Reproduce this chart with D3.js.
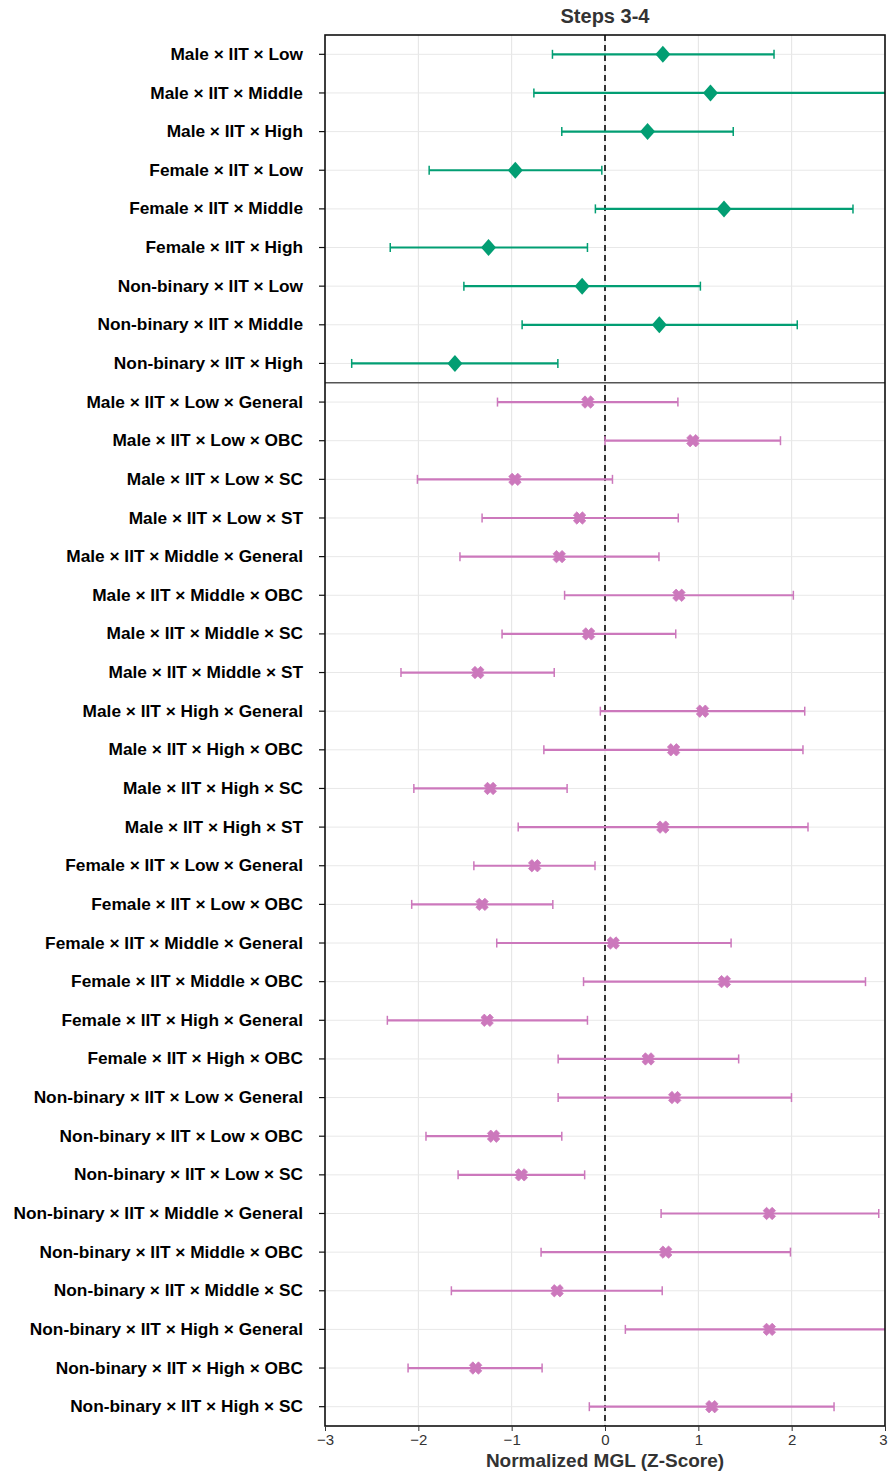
<!DOCTYPE html>
<html><head><meta charset="utf-8">
<script src="https://cdn.jsdelivr.net/npm/d3@7/dist/d3.min.js"></script>
<style>body{margin:0;background:#fff}svg{display:block}</style>
</head><body><div id="chart"></div>
<script>
const groupLabels = ["Male × IIT × Low","Male × IIT × Middle","Male × IIT × High","Female × IIT × Low","Female × IIT × Middle","Female × IIT × High","Non-binary × IIT × Low","Non-binary × IIT × Middle","Non-binary × IIT × High"];
const groupMean = [0.62,1.13,0.456,-0.961,1.275,-1.248,-0.245,0.582,-1.608];
const groupLow  = [-0.563,-0.762,-0.463,-1.884,-0.103,-2.301,-1.512,-0.888,-2.714];
const groupHigh = [1.811,3.03,1.374,-0.034,2.657,-0.188,1.022,2.06,-0.505];

const casteLabels = ["Male × IIT × Low × General","Male × IIT × Low × OBC","Male × IIT × Low × SC","Male × IIT × Low × ST","Male × IIT × Middle × General","Male × IIT × Middle × OBC","Male × IIT × Middle × SC","Male × IIT × Middle × ST","Male × IIT × High × General","Male × IIT × High × OBC","Male × IIT × High × SC","Male × IIT × High × ST","Female × IIT × Low × General","Female × IIT × Low × OBC","Female × IIT × Middle × General","Female × IIT × Middle × OBC","Female × IIT × High × General","Female × IIT × High × OBC","Non-binary × IIT × Low × General","Non-binary × IIT × Low × OBC","Non-binary × IIT × Low × SC","Non-binary × IIT × Middle × General","Non-binary × IIT × Middle × OBC","Non-binary × IIT × Middle × SC","Non-binary × IIT × High × General","Non-binary × IIT × High × OBC","Non-binary × IIT × High × SC"];
const casteMean = [-0.184,0.942,-0.965,-0.272,-0.49,0.792,-0.176,-1.363,1.045,0.735,-1.229,0.62,-0.754,-1.317,0.088,1.279,-1.263,0.463,0.747,-1.194,-0.896,1.761,0.651,-0.513,1.761,-1.386,1.145];
const casteLow  = [-1.152,0.0,-2.01,-1.317,-1.554,-0.433,-1.103,-2.186,-0.05,-0.655,-2.048,-0.93,-1.405,-2.071,-1.16,-0.23,-2.332,-0.502,-0.502,-1.918,-1.574,0.601,-0.685,-1.646,0.218,-2.11,-0.168];
const casteHigh = [0.781,1.88,0.08,0.785,0.578,2.018,0.758,-0.544,2.14,2.121,-0.406,2.175,-0.107,-0.559,1.351,2.791,-0.188,1.432,1.998,-0.463,-0.218,2.933,1.987,0.613,3.304,-0.674,2.454];

const xTicks = [-3,-2,-1,0,1,2,3];
const title = "Steps 3-4";
const xTitle = "Normalized MGL (Z-Score)";

const W = 888, H = 1474;
const m = {left:325, right:3, top:35, bottom:48};
const iw = W - m.left - m.right, ih = H - m.top - m.bottom;
const GREEN = "#029e73", PINK = "#cc78bc";

const rows = [];
groupLabels.forEach((l,i)=>rows.push({label:l, mean:groupMean[i], lo:groupLow[i], hi:groupHigh[i], kind:"g"}));
casteLabels.forEach((l,i)=>rows.push({label:l, mean:casteMean[i], lo:casteLow[i], hi:casteHigh[i], kind:"c"}));

const svg = d3.select("#chart").append("svg").attr("width",W).attr("height",H)
  .style("font-family","'Liberation Sans', Arial, sans-serif");
const g = svg.append("g").attr("transform",`translate(${m.left},${m.top})`);

const x = d3.scaleLinear().domain([-3,3]).range([0,iw]);
const y = d3.scaleBand().domain(rows.map(d=>d.label)).range([0,ih]).padding(0);
const yc = d => y(d) + y.bandwidth()/2;

svg.append("defs").append("clipPath").attr("id","clip").append("rect").attr("width",iw).attr("height",ih);

// grid
g.append("g").selectAll("line").data(xTicks).join("line")
  .attr("x1",d=>x(d)).attr("x2",d=>x(d)).attr("y1",0).attr("y2",ih)
  .attr("stroke","#e3e3e3").attr("stroke-width",1);
g.append("g").selectAll("line").data(rows).join("line")
  .attr("x1",0).attr("x2",iw).attr("y1",d=>yc(d.label)).attr("y2",d=>yc(d.label))
  .attr("stroke","#e8e8e8").attr("stroke-width",1);

// divider
const divY = y(casteLabels[0]);
g.append("line").attr("x1",0).attr("x2",iw).attr("y1",divY).attr("y2",divY)
  .attr("stroke","#555").attr("stroke-width",1.6);

// zero line
g.append("line").attr("x1",x(0)).attr("x2",x(0)).attr("y1",0).attr("y2",ih)
  .attr("stroke","#222").attr("stroke-width",1.8).attr("stroke-dasharray","6,4");

// error bars
const eb = g.append("g").attr("clip-path","url(#clip)");
const cap = 4.5;
rows.forEach(d=>{
  const col = d.kind==="g"?GREEN:PINK;
  const cy = yc(d.label);
  const gg = eb.append("g").attr("stroke",col).attr("stroke-width",2.2);
  gg.append("line").attr("x1",x(d.lo)).attr("x2",x(d.hi)).attr("y1",cy).attr("y2",cy);
  gg.append("line").attr("x1",x(d.lo)).attr("x2",x(d.lo)).attr("y1",cy-cap).attr("y2",cy+cap).attr("stroke-width",1.5);
  gg.append("line").attr("x1",x(d.hi)).attr("x2",x(d.hi)).attr("y1",cy-cap).attr("y2",cy+cap).attr("stroke-width",1.5);
});

// markers
const diamond = "M0,-8.5L7.5,0L0,8.5L-7.5,0Z";
const xMark = (()=>{const a=3.4,b=6.2; // filled X shape
  const pts=[[0,-a],[b-a,-b],[b,-b+a],[a,0],[b,b-a],[b-a,b],[0,a],[-b+a,b],[-b,b-a],[-a,0],[-b,-b+a],[-b+a,-b]];
  return "M"+pts.map(p=>p.join(",")).join("L")+"Z";})();
g.append("g").selectAll("path").data(rows).join("path")
  .attr("transform",d=>`translate(${x(d.mean)},${yc(d.label)})`)
  .attr("d",d=>d.kind==="g"?diamond:xMark)
  .attr("fill",d=>d.kind==="g"?GREEN:PINK)
  .attr("stroke",d=>d.kind==="g"?"none":PINK).attr("stroke-width",0.8).attr("stroke-linejoin","round");

// frame
g.append("rect").attr("width",iw).attr("height",ih).attr("fill","none").attr("stroke","#111").attr("stroke-width",1.6);

// y axis
const ya = g.append("g").call(d3.axisLeft(y).tickSize(6).tickPadding(16));
ya.select(".domain").remove();
ya.selectAll(".tick line").attr("stroke","#111").attr("stroke-width",1.2);
ya.selectAll(".tick text").attr("fill","#000").style("font-size","17.3px").style("font-weight","bold");

// x axis
const xa = g.append("g").attr("transform",`translate(0,${ih})`)
  .call(d3.axisBottom(x).tickValues(xTicks).tickSize(5).tickPadding(3).tickFormat(d=>d<0?"\u2212"+Math.abs(d):d));
xa.select(".domain").remove();
xa.selectAll(".tick line").attr("stroke","#333");
xa.selectAll(".tick text").attr("fill","#333").style("font-size","15px")
  .attr("dx",d=>d===3?"-2":null);

svg.append("text").attr("x",m.left+iw/2).attr("y",23).attr("text-anchor","middle")
  .attr("fill","#333").style("font-size","20px").style("font-weight","bold").text(title);
svg.append("text").attr("x",m.left+iw/2).attr("y",1467).attr("text-anchor","middle")
  .attr("fill","#333").style("font-size","19px").style("font-weight","bold").text(xTitle);
</script></body></html>
